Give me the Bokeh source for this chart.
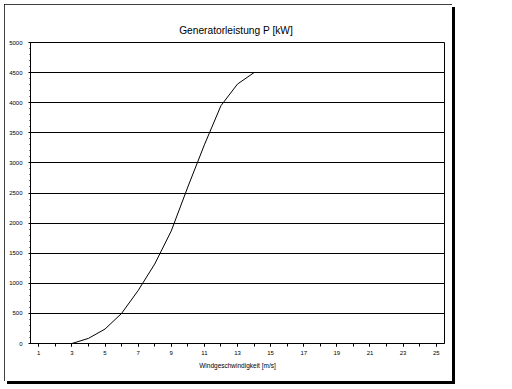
from bokeh.plotting import figure
from bokeh.models import FixedTicker, Range1d
from bokeh.embed import file_html
from bokeh.resources import INLINE

# ---- data ----
wind_speed = [3, 4, 5, 6, 7, 8, 9, 10, 11, 12, 13, 14]
power_kw = [0, 85, 240, 500, 880, 1320, 1870, 2600, 3300, 3950, 4310, 4500]
x_tick_values = list(range(1, 26, 2))
x_minor_ticks = list(range(1, 26))
y_tick_values = list(range(0, 5001, 500))
y_minor_ticks = list(range(0, 5001, 100))
title_text = "Generatorleistung  P [kW]"
x_title = "Windgeschwindigkeit [m/s]"

FONT = "Liberation Sans"

p = figure(width=448, height=377, output_backend="svg", toolbar_location=None,
           x_range=Range1d(0.5, 25.5), y_range=Range1d(0, 5000),
           min_border_left=26, min_border_right=8, min_border_top=38,
           min_border_bottom=38, margin=(4, 0, 0, 4),
           background_fill_color="white", border_fill_color="white",
           styles={"outline": "1px solid black", "outline-offset": "-1px",
                   "box-shadow": "3px 3px 0px 0px black"})

p.line(wind_speed, power_kw, line_color="black", line_width=1)

p.outline_line_color = "black"
p.outline_line_width = 1
p.outline_line_alpha = 1

p.xgrid.visible = False
p.ygrid.ticker = FixedTicker(ticks=y_tick_values)
p.ygrid.grid_line_color = "black"
p.ygrid.grid_line_alpha = 1
p.ygrid.grid_line_width = 1

xa = p.xaxis[0]
xa.ticker = FixedTicker(ticks=x_tick_values, minor_ticks=x_minor_ticks)
xa.axis_line_color = "black"
xa.major_tick_in = 0
xa.major_tick_out = 3
xa.minor_tick_in = 0
xa.minor_tick_out = 3
xa.major_tick_line_color = "black"
xa.minor_tick_line_color = "black"
xa.major_label_text_font = FONT
xa.major_label_text_font_size = "6px"
xa.major_label_text_color = "black"
xa.major_label_standoff = 4
xa.axis_label = x_title
xa.axis_label_text_font = FONT
xa.axis_label_text_font_size = "6.5px"
xa.axis_label_text_font_style = "normal"
xa.axis_label_text_color = "black"
xa.axis_label_standoff = 4

ya = p.yaxis[0]
ya.ticker = FixedTicker(ticks=y_tick_values, minor_ticks=y_minor_ticks)
ya.axis_line_color = "black"
ya.major_tick_in = 0
ya.major_tick_out = 2
ya.minor_tick_in = 0
ya.minor_tick_out = 1
ya.major_tick_line_color = "black"
ya.minor_tick_line_color = "black"
ya.major_label_text_font = FONT
ya.major_label_text_font_size = "6px"
ya.major_label_text_color = "black"
ya.major_label_standoff = 6

p.title.text = title_text
p.title.align = "center"
p.title.text_font = FONT
p.title.text_font_size = "10.2px"
p.title.text_font_style = "normal"
p.title.text_color = "black"
p.title.offset = -10
p.title.standoff = 14

open("out.html", "w").write(file_html(p, INLINE))
